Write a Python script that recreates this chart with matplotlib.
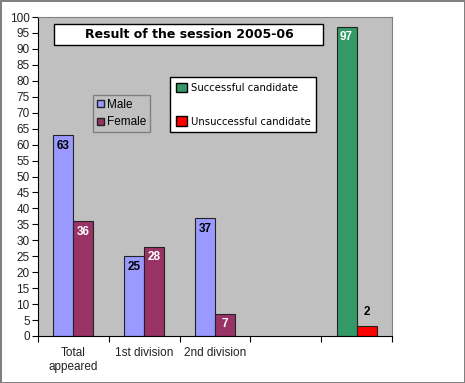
import numpy as np
import matplotlib.pyplot as plt
from matplotlib.patches import Patch

categories = ['Total\nappeared', '1st division', '2nd division', '', '']
male = [63, 25, 37]
female = [36, 28, 7]
successful = 97
unsuccessful = 3
unsuccessful_label = '2'

c_male = '#9999FF'
c_female = '#993366'
c_ok = '#339966'
c_bad = '#FF0000'

fig = plt.figure(figsize=(4.65, 3.83), dpi=100)
fig.patch.set_edgecolor('#808080')
fig.patch.set_linewidth(2)

ax = fig.add_axes([38 / 465, 1 - 336 / 383, 354 / 465, 319 / 383])
ax.set_facecolor('#C0C0C0')

w = 0.283
x = np.arange(3)
ax.bar(x - w / 2, male, w, color=c_male, edgecolor='#222222', lw=0.8)
ax.bar(x + w / 2, female, w, color=c_female, edgecolor='#222222', lw=0.8)
ax.bar(4 - w / 2, successful, w, color=c_ok, edgecolor='#222222', lw=0.8)
ax.bar(4 + w / 2, unsuccessful, w, color=c_bad, edgecolor='#222222', lw=0.8)

lab = dict(ha='center', fontsize=8.5, fontweight='bold', family='Liberation Sans')
for i in range(3):
    ax.text(x[i] - w / 2, male[i] - 1.5, str(male[i]), va='top', color='black', **lab)
    ax.text(x[i] + w / 2, female[i] - 1.5, str(female[i]), va='top', color='white', **lab)
ax.text(4 - w / 2, successful - 1.5, str(successful), va='top', color='white', **lab)
ax.text(4 + w / 2, unsuccessful + 2.5, unsuccessful_label, va='bottom', color='black', **lab)

ax.set_xlim(-0.5, 4.5)
ax.set_ylim(0, 100)
ax.set_yticks(np.arange(0, 101, 5))
ax.tick_params(axis='y', labelsize=8.5, length=4, direction='out', pad=2,
               labelcolor='#222222')
for t in ax.get_yticklabels():
    t.set_family('Liberation Sans')

ax.set_xticks(np.arange(-0.5, 4.6, 1))
ax.set_xticklabels([])
ax.set_xticks(np.arange(5), minor=True)
ax.set_xticklabels(categories, minor=True, fontsize=8.5, family='Liberation Sans',
                   color='#222222')
ax.tick_params(axis='x', which='major', length=4, direction='out')
ax.tick_params(axis='x', which='minor', length=0, pad=8)

ax.spines['left'].set_color('black')
ax.spines['bottom'].set_color('black')
ax.spines['top'].set_color('#808080')
ax.spines['right'].set_color('#808080')

# title box
fig.patches.append(plt.Rectangle((54 / 465, 1 - 45 / 383), 269 / 465, 21 / 383,
                                 transform=fig.transFigure, fc='white',
                                 ec='black', lw=1, zorder=3))
fig.text(189 / 465, 1 - 35 / 383, 'Result of the session 2005-06',
         ha='center', va='center', fontsize=9, fontweight='bold',
         family='DejaVu Sans', zorder=4)

leg1 = ax.legend(handles=[Patch(fc=c_male, ec='#222222', label='Male'),
                          Patch(fc=c_female, ec='#222222', label='Female')],
                 loc='upper left', bbox_to_anchor=(55 / 354, 1 - 78 / 319),
                 prop={'family': 'Liberation Sans', 'size': 8.5},
                 fancybox=False, framealpha=1, facecolor='#C0C0C0',
                 edgecolor='#808080', handlelength=0.6, handleheight=0.6,
                 handletextpad=0.3, borderpad=0.3, labelspacing=0.5,
                 borderaxespad=0)
ax.add_artist(leg1)
ax.legend(handles=[Patch(fc=c_ok, ec='black', label='Successful candidate'),
                   Patch(fc=c_bad, ec='black', label='Unsuccessful candidate')],
          loc='upper left', bbox_to_anchor=(132 / 354, 1 - 60 / 319),
          prop={'family': 'DejaVu Sans', 'size': 7.3},
          fancybox=False, framealpha=1, facecolor='white', edgecolor='black',
          handlelength=1.1, handleheight=1.1, handletextpad=0.4,
          borderpad=0.55, labelspacing=2.3, borderaxespad=0)

plt.savefig('out.png', dpi=100, edgecolor=fig.get_edgecolor())
plt.close(fig)
